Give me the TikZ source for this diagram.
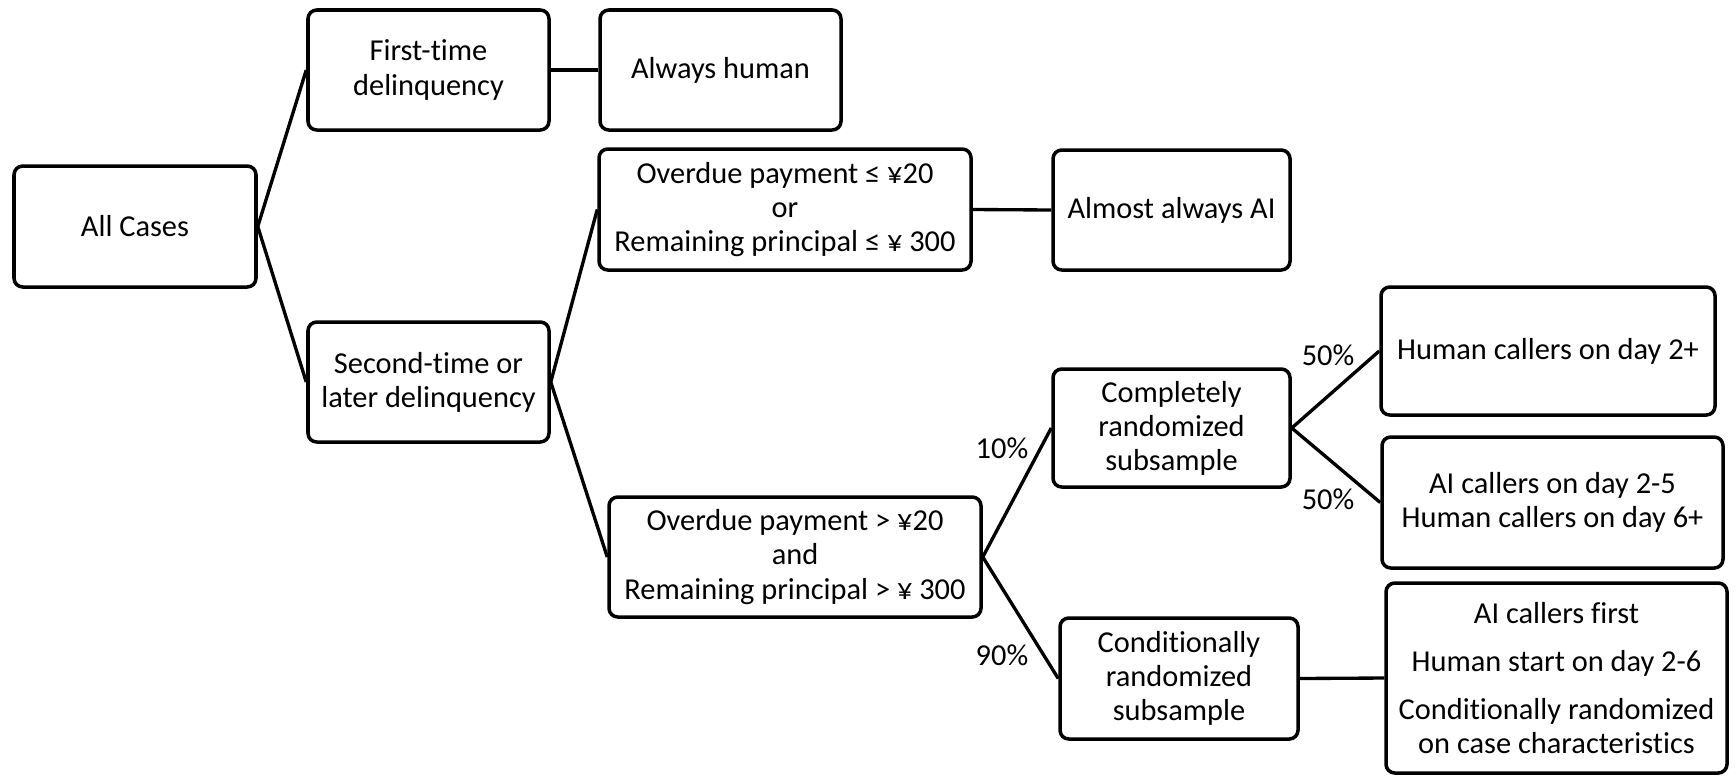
\documentclass[tikz,border=0pt]{standalone}
\usepackage{fontspec}
\setmainfont{Carlito}[Ligatures=NoCommon]
\usepackage{tikz}

\tikzset{
  casebox/.style={draw, line width=2pt, rounded corners=5pt, align=center, inner sep=0pt,
    font=\fontsize{17.3}{19.4}\selectfont},
  branch/.style={line width=1.9pt},
  share/.style={font=\fontsize{17.3}{19.4}\selectfont}
}

\begin{document}
\begin{tikzpicture}[x=0.02cm, y=-0.02cm]
			%%%%% START %%%%%
			\useasboundingbox (0, 0) rectangle (1736, 775);
			
			\node[casebox, minimum width=242*0.02cm, minimum height=121*0.02cm] (all) at (135, 226.5) {All Cases};
			
			\node[casebox, minimum width=241*0.02cm, minimum height=120*0.02cm] (first) at (428.5, 70) {First-time\\delinquency};
			\node[casebox, minimum width=241*0.02cm, minimum height=120*0.02cm] (second) at (428.5, 382) {Second-time or\\later delinquency};
			
			\node[casebox, minimum width=241*0.02cm, minimum height=120*0.02cm] (human) at (720.5, 70) {Always human};
			
			\node[casebox, minimum width=372*0.02cm, minimum height=121*0.02cm] (small) at (785, 209.5) {Overdue payment ≤ ¥20\\or\\Remaining principal ≤ ¥ 300};
			\node[casebox, minimum width=372*0.02cm, minimum height=120*0.02cm] (large) at (795, 557) {Overdue payment > ¥20\\and\\Remaining principal > ¥ 300};
			
			\node[casebox, minimum width=237*0.02cm, minimum height=120*0.02cm] (almostai) at (1171.5, 210) {Almost always AI};
			\node[casebox, minimum width=237*0.02cm, minimum height=118*0.02cm] (complete) at (1171.5, 428) {Completely\\randomized\\subsample};
			\node[casebox, minimum width=238*0.02cm, minimum height=121*0.02cm] (conditional) at (1179, 678.5) {Conditionally\\randomized\\subsample};
			
			\node[casebox, minimum width=334*0.02cm, minimum height=128*0.02cm] (humanday) at (1548, 351) {Human callers on day 2+};
			\node[casebox, minimum width=341*0.02cm, minimum height=131*0.02cm] (aiday) at (1552.5, 502.5) {AI callers on day 2-5\\Human callers on day 6+};
			\node[casebox, minimum width=341*0.02cm, minimum height=190*0.02cm] (aifirst) at (1556.5, 678) {AI callers first\\[8pt]Human start on day 2-6\\[8pt]Conditionally randomized\\on case characteristics};
			
			% tree branches
			\draw[branch] (all.east) -- (first.west);
			\draw[branch] (all.east) -- (second.west);
			\draw[branch] (first.east) -- (human.west);
			\draw[branch] (second.east) -- (small.west);
			\draw[branch] (second.east) -- (large.west);
			\draw[branch] (small.east) -- (almostai.west);
			\draw[branch] (large.east) -- (complete.west);
			\draw[branch] (large.east) -- (conditional.west);
			\draw[branch] (complete.east) -- (humanday.west);
			\draw[branch] (complete.east) -- (aiday.west);
			\draw[branch] (conditional.east) -- (aifirst.west);
			
			\node[share] (tenpct) at (1002, 448) {10\%};
			\node[share] (ninetypct) at (1002, 655) {90\%};
			\node[share] (halfa) at (1328, 355) {50\%};
			\node[share] (halfb) at (1328, 499) {50\%};
			
			%%%%% END %%%%%
		\end{tikzpicture}
\end{document}
